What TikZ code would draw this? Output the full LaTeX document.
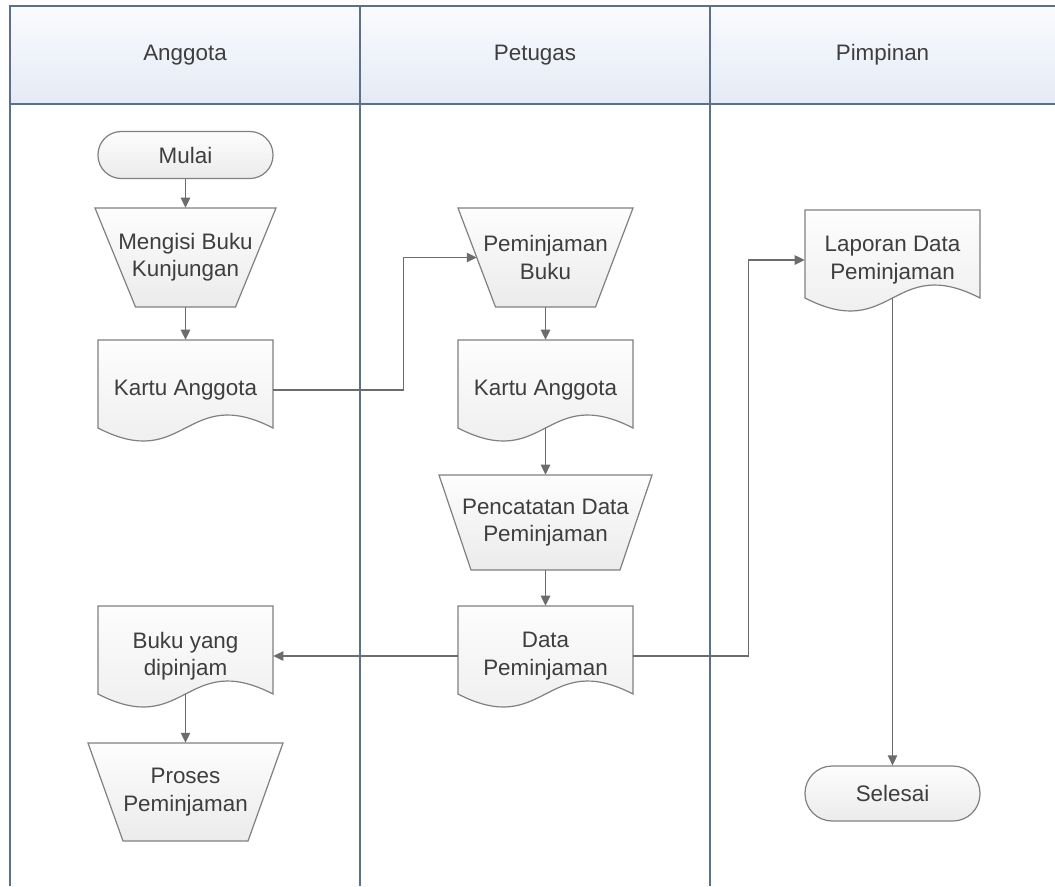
\documentclass[tikz,border=0pt]{standalone}
\usepackage{fontspec}
\setmainfont{Liberation Sans}
\usetikzlibrary{arrows.meta,calc}

\definecolor{lane}{RGB}{92,112,136}
\definecolor{hdtop}{RGB}{250,251,254}
\definecolor{hdbot}{RGB}{228,234,245}
\definecolor{shapeline}{RGB}{128,128,128}
\definecolor{flow}{RGB}{108,108,108}
\definecolor{ink}{RGB}{62,62,62}
\definecolor{filltop}{RGB}{253,253,253}
\definecolor{fillbot}{RGB}{235,235,235}

\tikzset{
  x=0.75pt, y=-0.75pt,
  lanerule/.style={draw=lane, line width=1.1pt},
  body/.style={draw=shapeline, line width=0.9pt, top color=filltop, bottom color=fillbot},
  txt/.style={text=ink, font=\fontsize{16.8}{20.5}\selectfont, align=center, inner sep=0pt},
  flowline/.style={draw=flow, line width=1.05pt, -{Triangle[length=7.5pt,width=7pt]}},
}

% document symbol: name, centre, width, text (height 100px, wavy bottom)
\newcommand\docbox[4]{%
  \path[body] ($(#2)+({-#3/2},-50)$) -- ($(#2)+({#3/2},-50)$) -- ($(#2)+({#3/2},38)$)
    .. controls ($(#2)+(0,-7)$) and ($(#2)+(0,83)$) .. ($(#2)+({-#3/2},38)$) -- cycle;
  \node[txt, minimum width={#3*0.75pt}, minimum height=75pt] (#1) at (#2) {#4};
  \coordinate (#1-b) at ($(#2)+(0,38)$);
}
% manual operation: name, centre, top width, bottom width, height, text
\newcommand\manop[6]{%
  \path[body] ($(#2)+({-#3/2},{-#5/2})$) -- ($(#2)+({#3/2},{-#5/2})$)
    -- ($(#2)+({#4/2},{#5/2})$) -- ($(#2)+({-#4/2},{#5/2})$) -- cycle;
  \node[txt, minimum width={#3*0.75pt}, minimum height={#5*0.75pt}] (#1) at (#2) {#6};
  \coordinate (#1-w) at ($(#2)+({-(#3+#4)/4},0)$);
}
% terminator: name, centre, width, height, text
\newcommand\terminal[5]{%
  \node[txt, body, rounded corners={#4*0.37pt}, minimum width={#3*0.75pt},
        minimum height={#4*0.75pt}] (#1) at (#2) {#5};
}

\begin{document}
\begin{tikzpicture}
\useasboundingbox (0,0) rectangle (1055,886);
\fill[white] (0,0) rectangle (1055,886);

% swimlane header and lane rules
\shade[top color=hdtop, bottom color=hdbot] (10,6) rectangle (1055,104);
\draw[lanerule] (10,886) -- (10,6) -- (1055,6);
\draw[lanerule] (10,104) -- (1055,104);
\draw[lanerule] (360,6) -- (360,886);
\draw[lanerule] (710,6) -- (710,886);

\node[txt] (h-anggota) at (185,55) {Anggota};
\node[txt] (h-petugas) at (535,55) {Petugas};
\node[txt] (h-pimpinan) at (882.5,55) {Pimpinan};

% Anggota lane
\terminal{mulai}{185.5,155}{175}{47}{Mulai}
\manop{mengisi}{185.5,257.5}{181}{100}{99}{Mengisi Buku\\Kunjungan}
\docbox{ka1}{185.5,390}{175}{Kartu Anggota}
\docbox{byd}{185.5,656}{175}{Buku yang\\dipinjam}
\manop{proses}{185.5,792}{195}{125}{98}{Proses\\Peminjaman}

% Petugas lane
\manop{pb}{545.5,257.5}{175}{100}{99}{Peminjaman\\Buku}
\docbox{ka2}{545.5,390}{175}{Kartu Anggota}
\manop{pc}{545.5,522.5}{213}{149}{95}{Pencatatan Data\\Peminjaman}
\docbox{dp}{545.5,656}{175}{Data\\Peminjaman}

% Pimpinan lane
\docbox{lp}{892.5,260}{175}{Laporan Data\\Peminjaman}
\terminal{selesai}{892.5,793.5}{175}{55}{Selesai}

% flows
\draw[flowline] (mulai.south) -- (mengisi.north);
\draw[flowline] (mengisi.south) -- (ka1.north);
\draw[flowline] (ka1.east) -- ++(130,0) |- (pb-w);
\draw[flowline] (pb.south) -- (ka2.north);
\draw[flowline] (ka2-b) -- (pc.north);
\draw[flowline] (pc.south) -- (dp.north);
\draw[flowline] (dp.west) -- (byd.east);
\draw[flowline] (byd-b) -- (proses.north);
\draw[flowline] (dp.east) -- ++(115,0) |- (lp.west);
\draw[flowline] (lp-b) -- (selesai.north);
\end{tikzpicture}
\end{document}
